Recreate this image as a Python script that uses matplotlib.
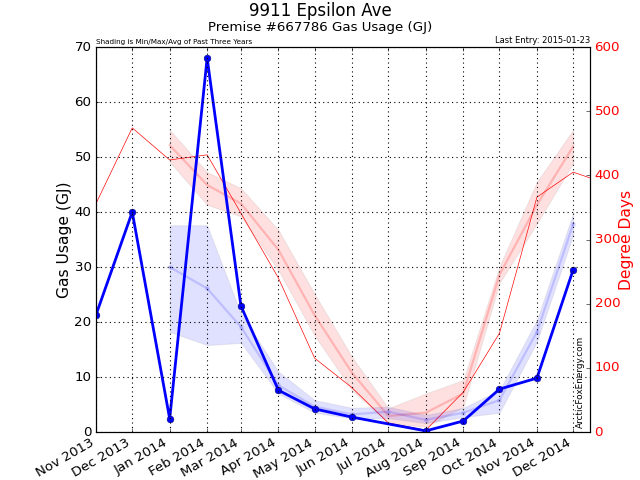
import datetime as dt
import matplotlib
matplotlib.use('Agg')
import matplotlib.pyplot as plt
import matplotlib.dates as mdates

plt.style.use('classic')

# monthly gas usage (GJ); no reading for Jul 2014
gas_dates = [dt.date(2013, 11, 1), dt.date(2013, 12, 1), dt.date(2014, 1, 1),
             dt.date(2014, 2, 1), dt.date(2014, 3, 1), dt.date(2014, 4, 1),
             dt.date(2014, 5, 1), dt.date(2014, 6, 1), dt.date(2014, 8, 1),
             dt.date(2014, 9, 1), dt.date(2014, 10, 1), dt.date(2014, 11, 1),
             dt.date(2014, 12, 1)]
gas_usage = [21.3, 40.0, 2.4, 68.0, 22.9, 7.6, 4.2, 2.7, 0.2, 2.0, 7.8, 9.8, 29.5]

# degree days for the same months (plus partial Jan 2015)
dd_dates = [dt.date(2013, 11, 1), dt.date(2013, 12, 1), dt.date(2014, 1, 1),
            dt.date(2014, 2, 1), dt.date(2014, 3, 1), dt.date(2014, 4, 1),
            dt.date(2014, 5, 1), dt.date(2014, 6, 1), dt.date(2014, 7, 1),
            dt.date(2014, 8, 1), dt.date(2014, 9, 1), dt.date(2014, 10, 1),
            dt.date(2014, 11, 1), dt.date(2014, 12, 1), dt.date(2015, 1, 1)]
degree_days = [356, 474, 424, 432, 341, 240, 115, 69, 14, 3, 62, 154, 366, 405, 385]

# past three years stats, Jan..Dec 2014
hist_dates = [dt.date(2014, m, 1) for m in range(1, 13)]
gas_avg = [30.0, 26.1, 19.1, 8.5, 4.6, 3.2, 3.7, 2.2, 3.5, 5.8, 18.2, 37.8]
gas_min = [18.2, 15.8, 16.2, 7.0, 3.5, 2.5, 2.5, 1.6, 2.7, 3.5, 16.4, 35.8]
gas_max = [37.6, 37.6, 21.5, 11.0, 5.8, 4.4, 4.6, 3.1, 4.4, 7.6, 20.4, 39.8]
dd_avg = [447, 385, 356, 284, 182, 92, 25, 30, 60, 245, 354, 445]
dd_min = [421, 354, 336, 252, 150, 65, 14, 8, 39, 232, 325, 419]
dd_max = [471, 405, 380, 315, 215, 117, 37, 60, 81, 258, 390, 471]

fig = plt.figure(figsize=(8, 6), dpi=80)
ax1 = fig.add_axes([0.15, 0.1, 0.772, 0.802])
ax2 = ax1.twinx()
ax1.set_zorder(ax2.get_zorder() + 1)
ax1.patch.set_visible(False)

# degree days on the right axis
ax2.fill_between(hist_dates, dd_min, dd_max, color='red', alpha=0.12,
                 edgecolor='grey', linewidth=1)
ax2.plot(hist_dates, dd_avg, color='red', alpha=0.2, linewidth=2)
ax2.plot(dd_dates, degree_days, color='red', linewidth=0.6)
ax2.set_ylim(0, 600)
ax2.set_ylabel('Degree Days', color='red', fontsize=14, labelpad=-1)
for t in ax2.get_yticklabels():
    t.set_color('red')

# gas usage on the left axis
ax1.fill_between(hist_dates, gas_min, gas_max, color='blue', alpha=0.12,
                 edgecolor='grey', linewidth=1)
ax1.plot(hist_dates, gas_avg, color='blue', alpha=0.15, linewidth=2,
         marker='s', markersize=4, markeredgecolor='none')
ax1.plot(gas_dates, gas_usage, color='blue', linewidth=2.5, marker='o',
         markersize=6, markerfacecolor='blue', markeredgecolor='navy')
ax1.set_ylim(0, 70)
ax1.set_ylabel('Gas Usage (GJ)', fontsize=14, labelpad=2)

ax1.set_xlim(dt.date(2013, 11, 1), dt.date(2014, 12, 15))
ax1.xaxis.set_major_locator(mdates.MonthLocator())
ax1.xaxis.set_major_formatter(mdates.DateFormatter('%b %Y'))
for t in ax1.get_xticklabels():
    t.set_rotation(30)
    t.set_ha('right')
ax1.grid(True, linestyle=':', linewidth=1, color='black')

fig.text(0.5, 0.977, '9911 Epsilon Ave', ha='center', va='center', fontsize=15)
fig.text(0.5, 0.943, 'Premise #667786 Gas Usage (GJ)', ha='center', va='center',
         fontsize=12)
ax1.text(0.0, 1.005, 'Shading is Min/Max/Avg of Past Three Years',
         transform=ax1.transAxes, ha='left', va='bottom', fontsize=6.5)
ax1.text(1.0, 1.005, 'Last Entry: 2015-01-23', transform=ax1.transAxes,
         ha='right', va='bottom', fontsize=7.5)
ax1.text(0.99, 0.01, 'ArcticFoxEnergy.com', transform=ax1.transAxes,
         ha='right', va='bottom', rotation=90, fontsize=8)

fig.savefig('out.png', dpi=80, facecolor='white')
